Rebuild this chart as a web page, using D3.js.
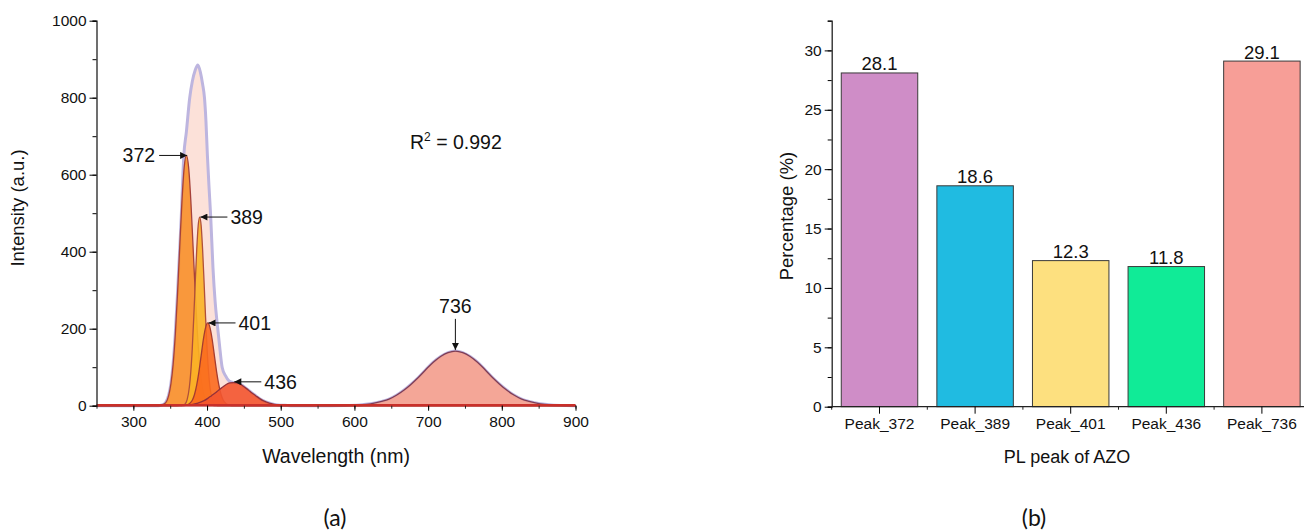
<!DOCTYPE html>
<html>
<head>
<meta charset="utf-8">
<script src="https://cdn.jsdelivr.net/npm/d3@7"></script>
<style>
  body { margin: 0; background: #fff; }
  svg text { font-family: "Liberation Sans", Arial, sans-serif; fill: #111; }
  .lbl { font-family: Lato, "Open Sans", sans-serif !important; }
</style>
</head>
<body>
<div id="container"></div>
<script>
/* DATA */
// fitted spectrum, [wavelength nm, intensity a.u.]
const envelope = [[250,0],[334,0],[339,2],[344,9],[348,28],[351,58],[354,110],[357,190],[360,295],[363,410],[365,490],[368.5,650],[372,712],[376.5,800],[380,842],[384,872],[387.5,885],[391,866],[394,835],[396.5,800],[398.5,740],[400.5,650],[402.5,575],[405,490],[408,360],[411,270],[413.7,215],[416.5,165],[420.5,100],[425,78],[430,64],[436,60],[441,59],[446,55],[451,48],[456,41],[461,33],[466,26],[471,19],[476,13],[486,6],[496,2],[506,1],[516,0],[567,0],[587,0.4],[607,2],[622,5],[637,11],[647,17],[657,27],[667,40],[677,56],[687,74],[697,94],[707,113],[717,128],[727,138],[737,142],[747,138],[757,128],[767,113],[777,94],[787,74],[797,56],[807,40],[817,27],[827,17],[837,11],[852,5],[867,2],[887,0.4],[900,0]]
const peak372 = [[250,0],[334,0],[339,2],[344,8],[348,27],[351,57],[354,108],[357,187],[360,293],[363,415],[366,533],[369,619],[372,650],[375,619],[378,533],[381,415],[384,293],[387,187],[390,108],[393,57],[396,27],[400,8],[405,2],[410,0],[900,0]]
const peak389 = [[250,0],[366,0],[370,4],[373,16],[376,48],[378,89],[380,150],[382,230],[384,320],[386,405],[388,468],[390,490],[392,468],[394,405],[396,320],[398,230],[400,150],[402,89],[404,48],[407,16],[410,4],[414,0],[900,0]]
const peak401 = [[250,0],[366,0],[371,1],[376,5],[380,14],[383,29],[386,54],[389,88],[392,130],[395,172],[398,203],[401,215],[404,203],[407,172],[410,130],[413,88],[416,54],[419,29],[422,14],[426,5],[431,1],[436,0],[900,0]]
const peak436 = [[250,0],[356,0],[366,1],[376,2],[386,6],[396,13],[401,19],[406,26],[411,33],[416,41],[421,48],[426,55],[431,59],[436,60],[441,59],[446,55],[451,48],[456,41],[461,33],[466,26],[471,19],[476,13],[486,6],[496,2],[506,1],[516,0],[900,0]]
const peak736 = [[250,0],[567,0],[587,0.4],[607,2],[622,5],[637,11],[647,17],[657,27],[667,40],[677,56],[687,74],[697,94],[707,113],[717,128],[727,138],[737,142],[747,138],[757,128],[767,113],[777,94],[787,74],[797,56],[807,40],[817,27],[827,17],[837,11],[852,5],[867,2],[887,0.4],[900,0]]

// arrow annotations: label, arrow tip [nm, a.u.]
const peakLabels = ["372", "389", "401", "436", "736"]
const peakTips = [[373, 650], [391, 490], [402, 215], [437, 62], [737, 145]]

// bar chart
const barCats = ["Peak_372", "Peak_389", "Peak_401", "Peak_436", "Peak_736"]
const barVals = [28.1, 18.6, 12.3, 11.8, 29.1]
const barColors = ["#cf8dc7", "#20bbe1", "#fde07f", "#10eb97", "#f79e97"]

const xTicksA = [300, 400, 500, 600, 700, 800, 900]
const yTicksA = [0, 200, 400, 600, 800, 1000]
const yTicksB = [0, 5, 10, 15, 20, 25, 30]

/* SVG */
const width = 1304, height = 531
const svg = d3.select("#container").append("svg")
  .attr("width", width).attr("height", height)

/* PANEL (a) */
const xA = d3.scaleLinear().domain([250, 900]).range([96.5, 575.5])
const yA = d3.scaleLinear().domain([0, 1000]).range([405.7, 20.7])

const area = d3.area().curve(d3.curveMonotoneX)
  .x(d => xA(d[0])).y0(yA(0)).y1(d => yA(d[1]))
const line = d3.line().curve(d3.curveMonotoneX)
  .x(d => xA(d[0])).y(d => yA(d[1]))

svg.append("path").attr("d", area(envelope)).attr("fill", "#fce1d9")
svg.append("path").attr("d", line(envelope)).attr("fill", "none")
  .attr("stroke", "#bdb5df").attr("stroke-width", 3)

const comps = [
  {d: peak372, fill: "#f8902a", stroke: "#a6413a"},
  {d: peak389, fill: "#fbb325", stroke: "#b0503a"},
  {d: peak401, fill: "#fb6a1e", stroke: "#a63c30"},
  {d: peak436, fill: "#f3552f", stroke: "#93313a"},
  {d: peak736, fill: "#f3a08f", stroke: "#7e3d55"}
]
comps.forEach(c => {
  svg.append("path").attr("d", area(c.d)).attr("fill", c.fill).attr("fill-opacity", 0.9)
  svg.append("path").attr("d", line(c.d)).attr("fill", "none")
    .attr("stroke", c.stroke).attr("stroke-width", 1.3)
})

// red baseline
svg.append("line").attr("x1", xA(250)).attr("x2", xA(900))
  .attr("y1", yA(0) - 0.5).attr("y2", yA(0) - 0.5)
  .attr("stroke", "#c9302a").attr("stroke-width", 2.5)

// axes
const axA = svg.append("g").attr("transform", `translate(0,${yA(0)})`)
axA.call(d3.axisBottom(xA).tickValues(d3.range(250, 901, 50)).tickSize(3).tickFormat(""))
axA.call(g => g.selectAll(".tick line").attr("stroke", "#222"))
const axA2 = svg.append("g").attr("transform", `translate(0,${yA(0)})`)
  .call(d3.axisBottom(xA).tickValues(xTicksA).tickSize(5).tickPadding(5))
axA2.select(".domain").remove()
axA2.selectAll("text").attr("font-size", 15.5)
axA.select(".domain").attr("stroke", "none")

const ayA = svg.append("g").attr("transform", `translate(${xA(250)},0)`)
  .call(d3.axisLeft(yA).tickValues(d3.range(0, 1001, 100)).tickSize(4).tickFormat(""))
ayA.select(".domain").attr("stroke", "#222").attr("stroke-width", 1.3)
const ayA2 = svg.append("g").attr("transform", `translate(${xA(250)},0)`)
  .call(d3.axisLeft(yA).tickValues(yTicksA).tickSize(7).tickPadding(3).tickFormat(d3.format("d")))
ayA2.select(".domain").remove()
ayA2.selectAll("text").attr("font-size", 15.5)

svg.append("text").attr("x", 336).attr("y", 463).attr("text-anchor", "middle")
  .attr("font-size", 19.5).text("Wavelength (nm)")
svg.append("text").attr("transform", "translate(24,208) rotate(-90)")
  .attr("text-anchor", "middle").attr("font-size", 18.5).text("Intensity (a.u.)")

const r2 = svg.append("text").attr("x", 410).attr("y", 149).attr("font-size", 19.5)
r2.append("tspan").text("R")
r2.append("tspan").attr("dy", -8).attr("font-size", 12).text("2")
r2.append("tspan").attr("dy", 8).text(" = 0.992")

// arrow marker
svg.append("defs").append("marker").attr("id", "arr")
  .attr("viewBox", "0 0 10 10").attr("refX", 10).attr("refY", 5)
  .attr("markerWidth", 9).attr("markerHeight", 7).attr("markerUnits", "userSpaceOnUse")
  .attr("orient", "auto")
  .append("path").attr("d", "M0,0 L10,5 L0,10 z").attr("fill", "#111")

peakLabels.forEach((lab, i) => {
  const tx = xA(peakTips[i][0]), ty = yA(peakTips[i][1])
  let x1, y1, lx, ly, anchor
  if (i === 0) { x1 = tx - 28; y1 = ty; lx = x1 - 4; ly = ty + 7; anchor = "end" }
  else if (i === 4) { x1 = tx; y1 = ty - 31; lx = tx; ly = y1 - 6; anchor = "middle" }
  else { x1 = tx + 27; y1 = ty; lx = x1 + 3; ly = ty + 7; anchor = "start" }
  svg.append("line").attr("x1", x1).attr("y1", y1).attr("x2", tx).attr("y2", ty)
    .attr("stroke", "#111").attr("stroke-width", 1).attr("marker-end", "url(#arr)")
  svg.append("text").attr("x", lx).attr("y", ly).attr("text-anchor", anchor)
    .attr("font-size", 19.5).text(lab)
})

svg.append("text").attr("class", "lbl").attr("x", 335).attr("y", 526)
  .attr("text-anchor", "middle").attr("font-size", 23).text("(a)")

/* PANEL (b) */
const xB = d3.scaleBand().domain(barCats).range([831.7, 1309.7]).paddingInner(0.2).paddingOuter(0.1)
const yB = d3.scaleLinear().domain([0, 32.5]).range([406.7, 20.7])

svg.selectAll(".bar").data(barCats).join("rect").attr("class", "bar")
  .attr("x", d => xB(d)).attr("width", xB.bandwidth())
  .attr("y", (d, i) => yB(barVals[i])).attr("height", (d, i) => yB(0) - yB(barVals[i]))
  .attr("fill", (d, i) => barColors[i]).attr("stroke", "#3a3a3a").attr("stroke-width", 1)

svg.selectAll(".val").data(barCats).join("text").attr("class", "val")
  .attr("x", d => xB(d) + xB.bandwidth() / 2).attr("y", (d, i) => yB(barVals[i]) - 2.5)
  .attr("text-anchor", "middle").attr("font-size", 18.5)
  .text((d, i) => barVals[i].toFixed(1))

const step = xB.step()
const bounds = d3.range(0, 6).map(i => 831.7 + i * step)
const axB = svg.append("g").attr("transform", `translate(0,${yB(0)})`)
  .call(d3.axisBottom(xB).tickSize(7).tickPadding(4))
axB.select(".domain").attr("d", `M831.7,0H1310`).attr("stroke", "#222").attr("stroke-width", 1.3)
axB.selectAll("text").attr("font-size", 15.5)
axB.selectAll(".minor").data(bounds).join("line").attr("class", "minor")
  .attr("x1", d => d).attr("x2", d => d).attr("y1", 0).attr("y2", 3).attr("stroke", "#222")

const ayB = svg.append("g").attr("transform", "translate(831.7,0)")
  .call(d3.axisLeft(yB).tickValues(d3.range(0, 32.6, 2.5)).tickSize(4).tickFormat(""))
ayB.select(".domain").attr("stroke", "#222").attr("stroke-width", 1.3)
const ayB2 = svg.append("g").attr("transform", "translate(831.7,0)")
  .call(d3.axisLeft(yB).tickValues(yTicksB).tickSize(7).tickPadding(3))
ayB2.select(".domain").remove()
ayB2.selectAll("text").attr("font-size", 15.5)

svg.append("text").attr("x", 1067).attr("y", 463).attr("text-anchor", "middle")
  .attr("font-size", 18).text("PL peak of AZO")
svg.append("text").attr("transform", "translate(793,216) rotate(-90)")
  .attr("text-anchor", "middle").attr("font-size", 18.5).text("Percentage (%)")

svg.append("text").attr("class", "lbl").attr("x", 1034).attr("y", 526)
  .attr("text-anchor", "middle").attr("font-size", 23).text("(b)")
</script>
</body>
</html>
